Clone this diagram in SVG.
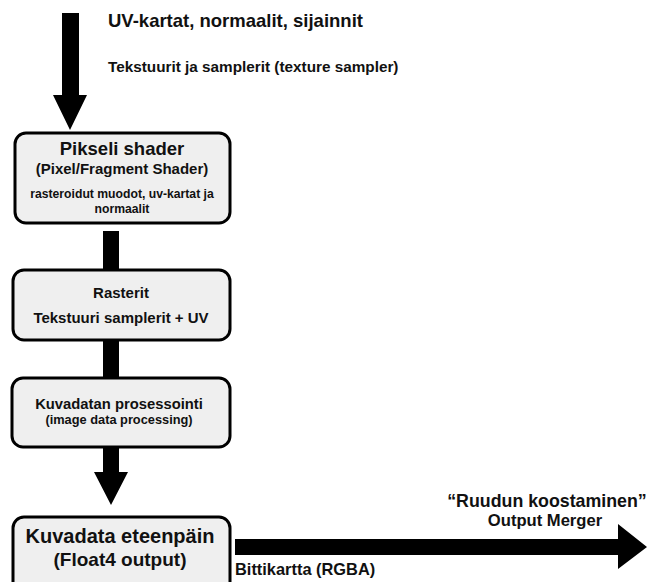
<svg xmlns="http://www.w3.org/2000/svg" width="648" height="582" viewBox="0 0 648 582">
  <style>
    .box { fill: #efefef; stroke: #000; stroke-width: 3; }
    .t { font-family: "Liberation Sans", Arial, sans-serif; font-weight: bold; fill: #111; }
    .c { text-anchor: middle; }
    .flow { fill: #000; }
  </style>
  <rect width="648" height="582" fill="#fff"/>

  <!-- Connectors: thick block arrows and plain bars -->
  <g id="connectors">
    <polygon class="flow" points="62,13 79,13 79,95 87,95 70,130 53,95 62,95"/>
    <rect class="flow" x="103" y="231" width="16" height="39"/>
    <rect class="flow" x="103" y="340" width="16" height="38"/>
    <polygon class="flow" points="103,447 119,447 119,472 128,472 111,505 94,472 103,472"/>
    <polygon class="flow" points="235,539 618,539 618,524 647,547 618,569 618,555 235,555"/>
  </g>

  <!-- Input labels -->
  <g id="inputs">
    <text class="t" x="108" y="27" font-size="18.5">UV-kartat, normaalit, sijainnit</text>
    <text class="t" x="108" y="72" font-size="15.3">Tekstuurit ja samplerit (texture sampler)</text>
  </g>

  <g id="pixel-shader">
    <rect class="box" x="15" y="133" width="215" height="90" rx="11"/>
    <text class="t c" x="122" y="155" font-size="18.5">Pikseli shader</text>
    <text class="t c" x="122" y="174" font-size="15">(Pixel/Fragment Shader)</text>
    <text class="t c" x="122" y="198" font-size="12.2">rasteroidut muodot, uv-kartat ja</text>
    <text class="t c" x="122" y="213" font-size="12.2">normaalit</text>
  </g>

  <g id="rasterit">
    <rect class="box" x="13" y="270" width="217" height="70" rx="11"/>
    <text class="t c" x="121" y="298" font-size="15">Rasterit</text>
    <text class="t c" x="121" y="323" font-size="15">Tekstuuri samplerit + UV</text>
  </g>

  <g id="prosessointi">
    <rect class="box" x="12" y="378" width="218" height="69" rx="11"/>
    <text class="t c" x="119" y="409" font-size="14.8">Kuvadatan prosessointi</text>
    <text class="t c" x="119" y="424" font-size="12.8">(image data processing)</text>
  </g>

  <g id="kuvadata">
    <rect class="box" x="13" y="517" width="217" height="80" rx="11"/>
    <text class="t c" x="120" y="543" font-size="20">Kuvadata eteenpäin</text>
    <text class="t c" x="120" y="566" font-size="19">(Float4 output)</text>
  </g>

  <g id="output-merger">
    <text class="t c" x="547" y="507" font-size="17.8">“Ruudun koostaminen”</text>
    <text class="t c" x="545" y="526" font-size="16.6">Output Merger</text>
  </g>

  <g id="bitmap-label">
    <text class="t" x="235" y="575" font-size="16.4">Bittikartta (RGBA)</text>
  </g>
</svg>
